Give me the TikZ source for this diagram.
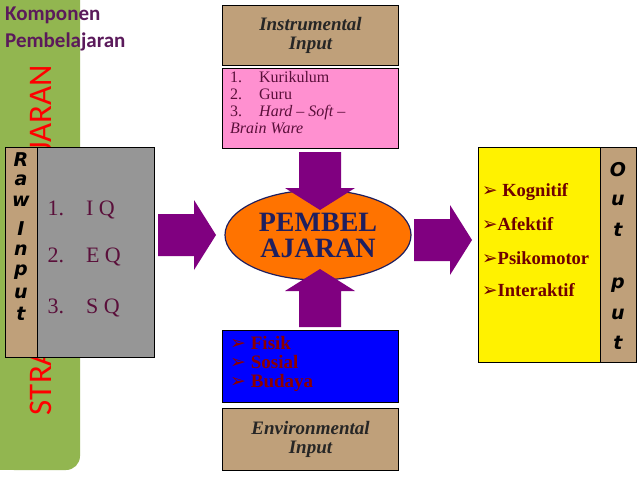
\documentclass[tikz,border=0pt]{standalone}
\usepackage{fontspec}
\setmainfont{Liberation Serif}
\newfontfamily\sansf{Carlito}
\newfontfamily\djv{DejaVu Sans}
\newfontfamily\boldsans{DejaVu Sans}
\usetikzlibrary{shapes.geometric}
\definecolor{grn}{HTML}{92B650}
\definecolor{purp}{HTML}{5B1A5B}
\definecolor{tex}{HTML}{BFA07A}
\definecolor{arr}{HTML}{800080}
\definecolor{maroon}{HTML}{5A0F3A}
\definecolor{pinkc}{HTML}{FF90D0}
\definecolor{navy}{HTML}{1F1F5F}
\definecolor{dred}{HTML}{8B0000}
\tikzset{
  texbox/.style={draw=black, line width=1pt, fill=tex},
  vletter/.style={font=\boldsans\bfseries\itshape\fontsize{19}{19}\selectfont, text=black, inner sep=0pt},
  ttl/.style={font=\bfseries\itshape\fontsize{19}{19}\selectfont, align=center, text=black!85},
  pics/fatarrow/.style={code={
    \fill[arr] (0,-21) -- (36,-21) -- (36,-35) -- (58,0) -- (36,35) -- (36,21) -- (0,21) -- cycle;
  }}
}
\newcommand\bul{{\djv\char"27A2}}
\begin{document}
\begin{tikzpicture}[x=1pt,y=-1pt]
\useasboundingbox (0,0) rectangle (638,479);
\fill[white] (0,0) rectangle (638,479);
% green bar
\fill[grn, rounded corners=14pt] (0,-20) -- (80,-20) -- (80,470) -- (0,470) -- cycle;
\fill[grn] (0,0) rectangle (40,470);
\node[anchor=north west, font=\sansf\bfseries\fontsize{21}{27}\selectfont, text=purp, align=left, inner sep=0pt] (komp) at (5,7) {Komponen\\Pembelajaran};
\node[rotate=90, font=\sansf\fontsize{33}{33}\selectfont, text=red] (strat) at (41,240) {STRATEGI PEMBELAJARAN};
% raw input
\node[texbox, minimum width=32pt, minimum height=210pt, anchor=north west] (rawstrip) at (5,147) {};
\node[draw=black, line width=1pt, fill=black!41, minimum width=117pt, minimum height=210pt, anchor=north west] (raw) at (37,147) {};
\foreach \l/\y [count=\i] in {R/160,a/180,w/201,I/229,n/250,p/272,u/293,t/314}
  \node[vletter] (rl\i) at (21,\y) {\l};
\foreach \t/\y [count=\i] in {1.\hspace{22pt}I Q/210,2.\hspace{22pt}E Q/257,3.\hspace{22pt}S Q/308}
  \node[anchor=west, font=\fontsize{22}{22}\selectfont, text=maroon] (q\i) at (44,\y) {\t};
% instrumental
\node[texbox, minimum width=176pt, minimum height=60pt, anchor=north west] (instr) at (222,5) {};
\node[ttl] at (instr) {Instrumental\\Input};
\node[draw=black, line width=1pt, fill=pinkc, minimum width=176pt, minimum height=80pt, anchor=north west] (pink) at (222,68) {};
\node[anchor=north west, font=\fontsize{16}{17}\selectfont, text=maroon, align=left, inner sep=0pt] (plist) at (230,71)
 {1.\hspace{17pt}Kurikulum\\2.\hspace{17pt}Guru\\3.\hspace{17pt}\textit{Hard -- Soft --}\\\textit{Brain Ware}};
% ellipse
\node[ellipse, draw=navy, line width=1.2pt, fill=orange!90!red, minimum width=186pt, minimum height=90pt, align=center, font=\bfseries\fontsize{28}{26}\selectfont, text=navy] (pem) at (318,235) {PEMBEL\\AJARAN};
% arrows
\pic[rotate=-90] at (320,152) {fatarrow};
\pic[rotate=90] at (320,327) {fatarrow};
\pic at (158,235) {fatarrow};
\pic at (414,240) {fatarrow};
% blue
\node[draw=black, line width=1pt, fill=blue, minimum width=176pt, minimum height=72pt, anchor=north west] (blue) at (222,330) {};
\node[anchor=north west, font=\bfseries\fontsize{19}{19}\selectfont, text=dred, align=left, inner sep=0pt] (blist) at (230,336)
 {\bul\ Fisik\\\bul\ Sosial\\\bul\ Budaya};
\node[texbox, minimum width=176pt, minimum height=62pt, anchor=north west] (env) at (222,408) {};
\node[ttl] at (env) {Environmental\\Input};
% output
\node[draw=black, line width=1pt, fill=yellow, minimum width=122pt, minimum height=215pt, anchor=north west] (out) at (478,147) {};
\node[texbox, minimum width=36pt, minimum height=215pt, anchor=north west] (outstrip) at (600,147) {};
\foreach \l/\y [count=\i] in {O/170,u/200,t/230,p/285,u/314,t/343}
  \node[vletter] (ol\i) at (618,\y) {\l};
\foreach \t/\y [count=\i] in {{\ }Kognitif/192,Afektif/224,Psikomotor/258,Interaktif/290}
  \node[anchor=west, font=\bfseries\fontsize{18.5}{18}\selectfont, text=dred!80!black, inner sep=0pt] (o\i) at (482,\y) {\bul\t};
\end{tikzpicture}
\end{document}
